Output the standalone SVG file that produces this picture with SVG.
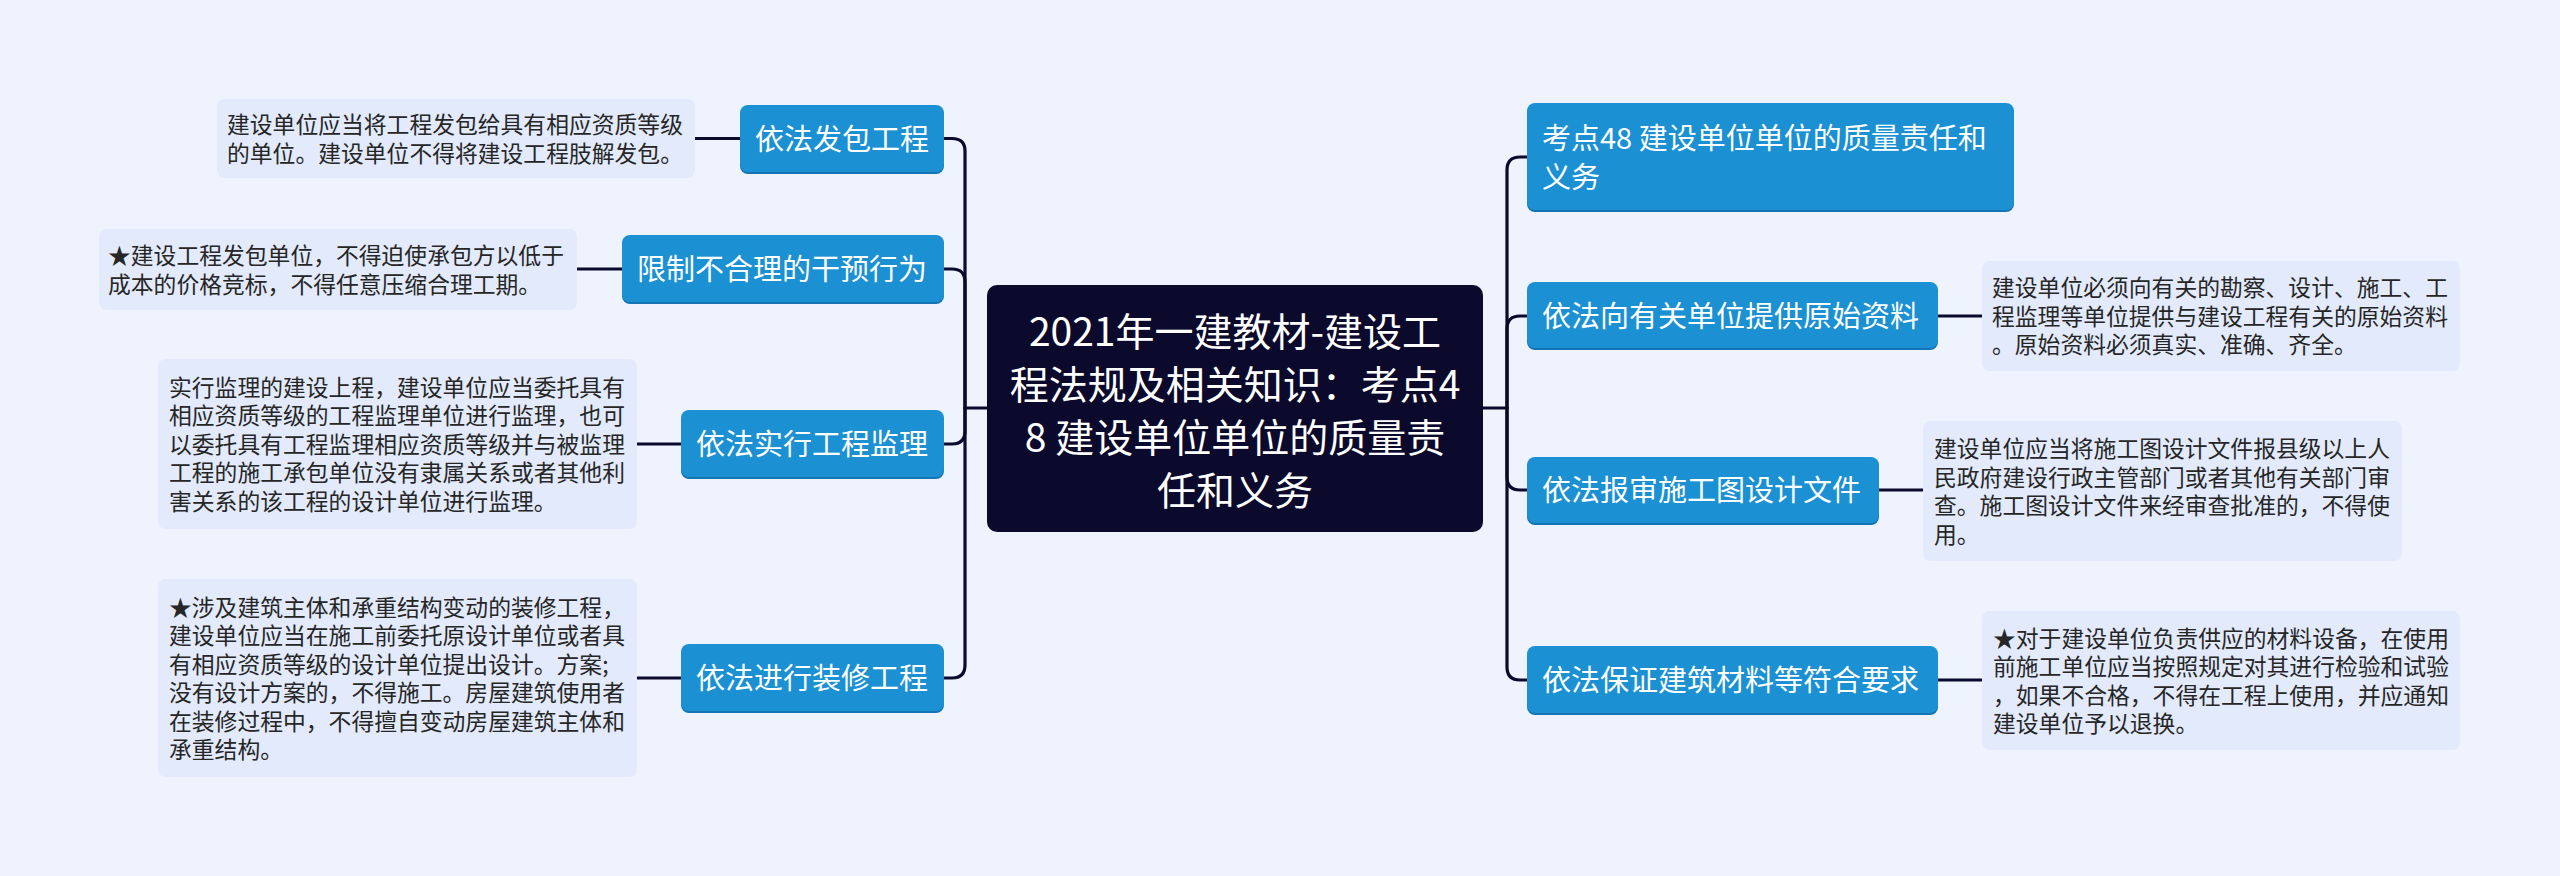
<svg xmlns="http://www.w3.org/2000/svg" width="2560" height="876" viewBox="0 0 2560 876">
<style>
.bg{fill:#eef3fe}
.node{fill:#1b90d2}
.nodesh{fill:#1574b3}
.note{fill:#e2eafb}
.center{fill:#0c0a2c}
.nt{font-family:"Noto Sans CJK SC","Noto Sans",sans-serif;font-size:29px;fill:#ffffff}
.ct{font-family:"Noto Sans CJK SC","Noto Sans",sans-serif;font-size:39px;fill:#ffffff;text-anchor:middle}
.tx{font-family:"Noto Sans CJK SC","Noto Sans",sans-serif;font-size:22.8px;fill:#262626}
.ln{fill:none;stroke:#0c0a2c;stroke-width:3.2;stroke-linecap:round}
</style>
<rect class="bg" x="0" y="0" width="2560" height="876"/>

<g id="connectors">
  <!-- left trunk -->
  <path class="ln" d="M987 408 H965"/>
  <path class="ln" d="M965 408 V151 Q965 138.5 952 138.5 H944"/>
  <path class="ln" d="M965 408 V282 Q965 269 952 269 H944"/>
  <path class="ln" d="M965 408 V431 Q965 444 952 444 H944"/>
  <path class="ln" d="M965 408 V665 Q965 678 952 678 H944"/>
  <!-- right trunk -->
  <path class="ln" d="M1483 408 H1507"/>
  <path class="ln" d="M1507 408 V170 Q1507 157 1520 157 H1527"/>
  <path class="ln" d="M1507 408 V329 Q1507 316 1520 316 H1527"/>
  <path class="ln" d="M1507 408 V477 Q1507 490 1520 490 H1527"/>
  <path class="ln" d="M1507 408 V667 Q1507 680 1520 680 H1527"/>
  <!-- notes -->
  <path class="ln" d="M695 138.5 H740"/>
  <path class="ln" d="M577 269 H622"/>
  <path class="ln" d="M637 444 H681"/>
  <path class="ln" d="M637 678 H681"/>
  <path class="ln" d="M1938 316 H1982"/>
  <path class="ln" d="M1879 490 H1923"/>
  <path class="ln" d="M1938 680 H1982"/>
</g>

<g id="center">
  <rect class="center" x="987" y="285" width="496" height="247" rx="10"/>
  <text class="ct" x="1235" y="346">2021年一建教材-建设工</text>
  <text class="ct" x="1235" y="399">程法规及相关知识：考点4</text>
  <text class="ct" x="1235" y="452">8 建设单位单位的质量责</text>
  <text class="ct" x="1235" y="505">任和义务</text>
</g>

<g id="n1">
  <rect class="nodesh" x="740" y="107" width="204" height="67" rx="8"/>
  <rect class="node" x="740" y="105" width="204" height="67" rx="8"/>
  <text class="nt" x="755" y="149.5">依法发包工程</text>
</g>
<g id="n2">
  <rect class="nodesh" x="622" y="237" width="322" height="67" rx="8"/>
  <rect class="node" x="622" y="235" width="322" height="67" rx="8"/>
  <text class="nt" x="637" y="280">限制不合理的干预行为</text>
</g>
<g id="n3">
  <rect class="nodesh" x="681" y="412" width="263" height="67" rx="8"/>
  <rect class="node" x="681" y="410" width="263" height="67" rx="8"/>
  <text class="nt" x="696" y="455">依法实行工程监理</text>
</g>
<g id="n4">
  <rect class="nodesh" x="681" y="646" width="263" height="67" rx="8"/>
  <rect class="node" x="681" y="644" width="263" height="67" rx="8"/>
  <text class="nt" x="696" y="689">依法进行装修工程</text>
</g>

<g id="r1">
  <rect class="nodesh" x="1527" y="105" width="487" height="107" rx="8"/>
  <rect class="node" x="1527" y="103" width="487" height="107" rx="8"/>
  <text class="nt" x="1542" y="149">考点48 建设单位单位的质量责任和</text>
  <text class="nt" x="1542" y="188">义务</text>
</g>
<g id="r2">
  <rect class="nodesh" x="1527" y="284" width="411" height="66" rx="8"/>
  <rect class="node" x="1527" y="282" width="411" height="66" rx="8"/>
  <text class="nt" x="1542" y="326.5">依法向有关单位提供原始资料</text>
</g>
<g id="r3">
  <rect class="nodesh" x="1527" y="459" width="352" height="66" rx="8"/>
  <rect class="node" x="1527" y="457" width="352" height="66" rx="8"/>
  <text class="nt" x="1542" y="501">依法报审施工图设计文件</text>
</g>
<g id="r4">
  <rect class="nodesh" x="1527" y="648" width="411" height="67" rx="8"/>
  <rect class="node" x="1527" y="646" width="411" height="67" rx="8"/>
  <text class="nt" x="1542" y="691">依法保证建筑材料等符合要求</text>
</g>

<g id="note1">
  <rect class="note" x="217" y="99" width="478" height="79" rx="8"/>
  <text class="tx" x="227" y="133">建设单位应当将工程发包给具有相应资质等级</text>
  <text class="tx" x="227" y="161.5">的单位。建设单位不得将建设工程肢解发包。</text>
</g>
<g id="note2">
  <rect class="note" x="99" y="229" width="478" height="81" rx="8"/>
  <text class="tx" x="108" y="264">★建设工程发包单位，不得迫使承包方以低于</text>
  <text class="tx" x="108" y="292.5">成本的价格竞标，不得任意压缩合理工期。</text>
</g>
<g id="note3">
  <rect class="note" x="158" y="359" width="479" height="170" rx="8"/>
  <text class="tx" x="169" y="395.7">实行监理的建设上程，建设单位应当委托具有</text>
  <text class="tx" x="169" y="424.2">相应资质等级的工程监理单位进行监理，也可</text>
  <text class="tx" x="169" y="452.7">以委托具有工程监理相应资质等级并与被监理</text>
  <text class="tx" x="169" y="481.2">工程的施工承包单位没有隶属关系或者其他利</text>
  <text class="tx" x="169" y="509.7">害关系的该工程的设计单位进行监理。</text>
</g>
<g id="note4">
  <rect class="note" x="158" y="579" width="479" height="198" rx="8"/>
  <text class="tx" x="169" y="615.5">★涉及建筑主体和承重结构变动的装修工程，</text>
  <text class="tx" x="169" y="644">建设单位应当在施工前委托原设计单位或者具</text>
  <text class="tx" x="169" y="672.5">有相应资质等级的设计单位提出设计。方案;</text>
  <text class="tx" x="169" y="701">没有设计方案的，不得施工。房屋建筑使用者</text>
  <text class="tx" x="169" y="729.5">在装修过程中，不得擅自变动房屋建筑主体和</text>
  <text class="tx" x="169" y="758">承重结构。</text>
</g>

<g id="noteR2">
  <rect class="note" x="1982" y="261" width="478" height="110" rx="8"/>
  <text class="tx" x="1992" y="296.2">建设单位必须向有关的勘察、设计、施工、工</text>
  <text class="tx" x="1992" y="324.7">程监理等单位提供与建设工程有关的原始资料</text>
  <text class="tx" x="1992" y="353.2">。原始资料必须真实、准确、齐全。</text>
</g>
<g id="noteR3">
  <rect class="note" x="1923" y="421" width="479" height="140" rx="8"/>
  <text class="tx" x="1934" y="457">建设单位应当将施工图设计文件报县级以上人</text>
  <text class="tx" x="1934" y="485.5">民政府建设行政主管部门或者其他有关部门审</text>
  <text class="tx" x="1934" y="514">查。施工图设计文件来经审查批准的，不得使</text>
  <text class="tx" x="1934" y="542.5">用。</text>
</g>
<g id="noteR4">
  <rect class="note" x="1982" y="611" width="478" height="139" rx="8"/>
  <text class="tx" x="1993" y="646.5">★对于建设单位负责供应的材料设备，在使用</text>
  <text class="tx" x="1993" y="675">前施工单位应当按照规定对其进行检验和试验</text>
  <text class="tx" x="1993" y="703.5">，如果不合格，不得在工程上使用，并应通知</text>
  <text class="tx" x="1993" y="732">建设单位予以退换。</text>
</g>
</svg>
